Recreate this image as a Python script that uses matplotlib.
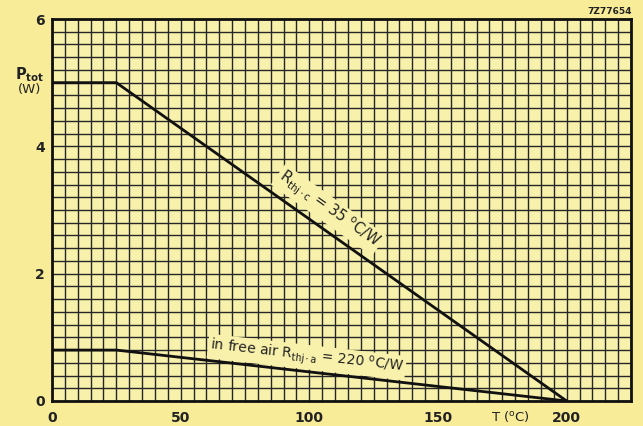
import numpy as np
import matplotlib
matplotlib.use("Agg")
import matplotlib.pyplot as plt

plt.rcParams['mathtext.default'] = 'regular'
plt.rcParams['font.family'] = ['DejaVu Sans']

# Data
temperature = [0, 25, 200]
p_case = [5, 5, 0]          # Rth j-c = 35 C/W
p_air = [0.8, 0.8, 0]       # free air Rth j-a = 220 C/W
x_ticks = [0, 50, 100, 150, 200]
y_ticks = [0, 2, 4, 6]

bg = '#f8ec98'
axbg = '#f8f1ab'

fig = plt.figure(figsize=(6.43, 4.26), dpi=100, facecolor=bg)
ax = fig.add_axes([52/643, 25/426, 579/643, 382/426], facecolor=axbg)
ax.set_xlim(0, 225)
ax.set_ylim(0, 6)

# grid
for gx in np.arange(0, 225.1, 5):
    ax.axvline(gx, color='#262626', lw=1.0, zorder=1)
for gy in np.arange(0, 6.01, 0.2):
    ax.axhline(gy, color='#262626', lw=1.0, zorder=1)

ax.plot(temperature, p_case, color='#111111', lw=2, zorder=5)
ax.plot(temperature, p_air, color='#111111', lw=2, zorder=5)

ax.set_xticks(x_ticks)
ax.set_yticks(y_ticks)
ax.tick_params(length=0, labelsize=10, colors='#222222')
ax.tick_params(axis='x', pad=7)
ax.tick_params(axis='y', pad=5)
for lab in ax.get_xticklabels() + ax.get_yticklabels():
    lab.set_fontweight('bold')
for s in ax.spines.values():
    s.set_linewidth(2)
    s.set_color('#111111')
    s.set_zorder(6)

box = dict(facecolor=axbg, edgecolor='none', pad=1.5)
ax.text(107.5, 3.0, r'$R_{thj\cdot c}$ = 35 $^{o}$C/W', rotation=-35.3,
        rotation_mode='anchor', ha='center', va='center', fontsize=10.5,
        color='#222222', bbox=box, zorder=4)
ax.text(99, 0.69, r'in free air $R_{thj\cdot a}$ = 220 $^{o}$C/W', rotation=-6.5,
        rotation_mode='anchor', ha='center', va='center', fontsize=10,
        color='#222222', bbox=box, zorder=4)

fig.text(30/643, 1 - 75/426, r'$P_{tot}$', ha='center', va='center', fontsize=10.5, color='#222222', fontweight='bold')
fig.text(30/643, 1 - 90/426, '(W)', ha='center', va='center', fontsize=9.5, color='#222222')
fig.text(510/643, 1 - 417/426, r'T ($^{o}$C)', ha='center', va='center', fontsize=9.5, color='#222222')
fig.text(632/643, 1 - 12/426, '7Z77654', ha='right', va='center', fontsize=6.5, color='#222222', fontweight='bold')

fig.savefig('out.png', dpi=100, facecolor=bg)
